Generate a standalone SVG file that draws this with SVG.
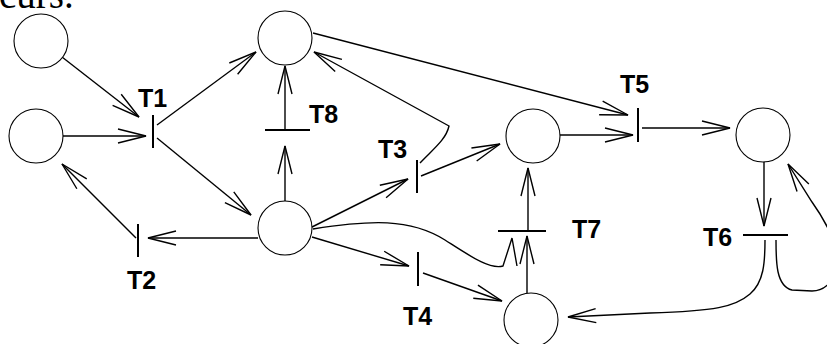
<svg xmlns="http://www.w3.org/2000/svg" width="827" height="344" viewBox="0 0 827 344">
<style>
.place{fill:#fff;stroke:#000;stroke-width:1.1}
.bar{stroke:#000;stroke-width:2;fill:none}
.arc{fill:none;stroke:#000;stroke-width:1.4}
.lbl{font-family:"Liberation Sans",Arial,sans-serif;font-weight:bold;font-size:25px;fill:#000}
.cap{font-family:"Liberation Serif","Times New Roman",serif;font-size:39px;fill:#000}
</style>
<defs>
<marker id="ah" markerUnits="userSpaceOnUse" markerWidth="32" markerHeight="18" refX="29" refY="9" orient="auto" viewBox="0 0 32 18" overflow="visible">
<path d="M1,2 L29,9 L1,16" fill="none" stroke="#000" stroke-width="1.4"/>
</marker>
</defs>
<rect width="827" height="344" fill="#fff"/>
<text class="cap" x="-1" y="8">curs.</text>
<g id="connectors">
<path class="arc" marker-end="url(#ah)" d="M62,57 L139,117"/>
<path class="arc" marker-end="url(#ah)" d="M63,136 L146,136"/>
<path class="arc" marker-end="url(#ah)" d="M157,125 L256,52"/>
<path class="arc" marker-end="url(#ah)" d="M157,138 L251,215"/>
<path class="arc" marker-end="url(#ah)" d="M258,238 L148,238"/>
<path class="arc" marker-end="url(#ah)" d="M136,238 L62,164"/>
<path class="arc" marker-end="url(#ah)" d="M285,201 L285,146"/>
<path class="arc" marker-end="url(#ah)" d="M285,130 L285,66"/>
<path class="arc" marker-end="url(#ah)" d="M313,33 L628,115"/>
<path class="arc" marker-end="url(#ah)" d="M420,163 C432,150 446,140 449,126 L314,52"/>
<path class="arc" marker-end="url(#ah)" d="M312,227 L408,179"/>
<path class="arc" marker-end="url(#ah)" d="M421,176 L500,144"/>
<path class="arc" marker-end="url(#ah)" d="M560,135 L633,135"/>
<path class="arc" marker-end="url(#ah)" d="M642,128 L730,128"/>
<path class="arc" marker-end="url(#ah)" d="M764,161 L764,226"/>
<path class="arc" marker-end="url(#ah)" d="M765,240 C765,262 764,282 750,294 C735,307 715,311 650,313 L568,317"/>
<path class="arc" marker-end="url(#ah)" d="M776,240 C776,262 776,286 792,290 L812,291 C830,291 842,270 836,248 C831,232 822,216 812,202 L788,164"/>
<path class="arc" marker-end="url(#ah)" d="M312,237 L409,266"/>
<path class="arc" marker-end="url(#ah)" d="M423,273 L502,301"/>
<path class="arc" marker-end="url(#ah)" d="M527,293 L527,236"/>
<path class="arc" marker-end="url(#ah)" d="M528,231 L528,168"/>
<path class="arc" d="M313,229 C370,220 410,218 445,240 C470,256 490,270 503,266 L512,238 L517,266"/>
</g>
<g id="P1"><circle class="place" cx="41" cy="41" r="27"/></g>
<g id="P2"><circle class="place" cx="36" cy="136" r="27"/></g>
<g id="P3"><circle class="place" cx="285" cy="38" r="27"/></g>
<g id="P4"><circle class="place" cx="285" cy="228" r="27"/></g>
<g id="P5"><circle class="place" cx="533" cy="136" r="27"/></g>
<g id="P6"><circle class="place" cx="763" cy="135" r="27"/></g>
<g id="P7"><circle class="place" cx="531" cy="320" r="27"/></g>
<g id="T1"><path class="bar" d="M153,115 V148"/><text class="lbl" x="138" y="107">T1</text></g>
<g id="T2"><path class="bar" d="M138,224 V257"/><text class="lbl" x="127" y="289">T2</text></g>
<g id="T3"><path class="bar" d="M417,160 V193"/><text class="lbl" x="378" y="158">T3</text></g>
<g id="T4"><path class="bar" d="M418,252 V286"/><text class="lbl" x="403" y="325">T4</text></g>
<g id="T5"><path class="bar" d="M638,108 V142"/><text class="lbl" x="620" y="93">T5</text></g>
<g id="T6"><path class="bar" d="M743,235 H788"/><text class="lbl" x="703" y="246">T6</text></g>
<g id="T7"><path class="bar" d="M498,231 H546"/><text class="lbl" x="572" y="238">T7</text></g>
<g id="T8"><path class="bar" d="M265,130 H310"/><text class="lbl" x="309" y="123">T8</text></g>
</svg>
